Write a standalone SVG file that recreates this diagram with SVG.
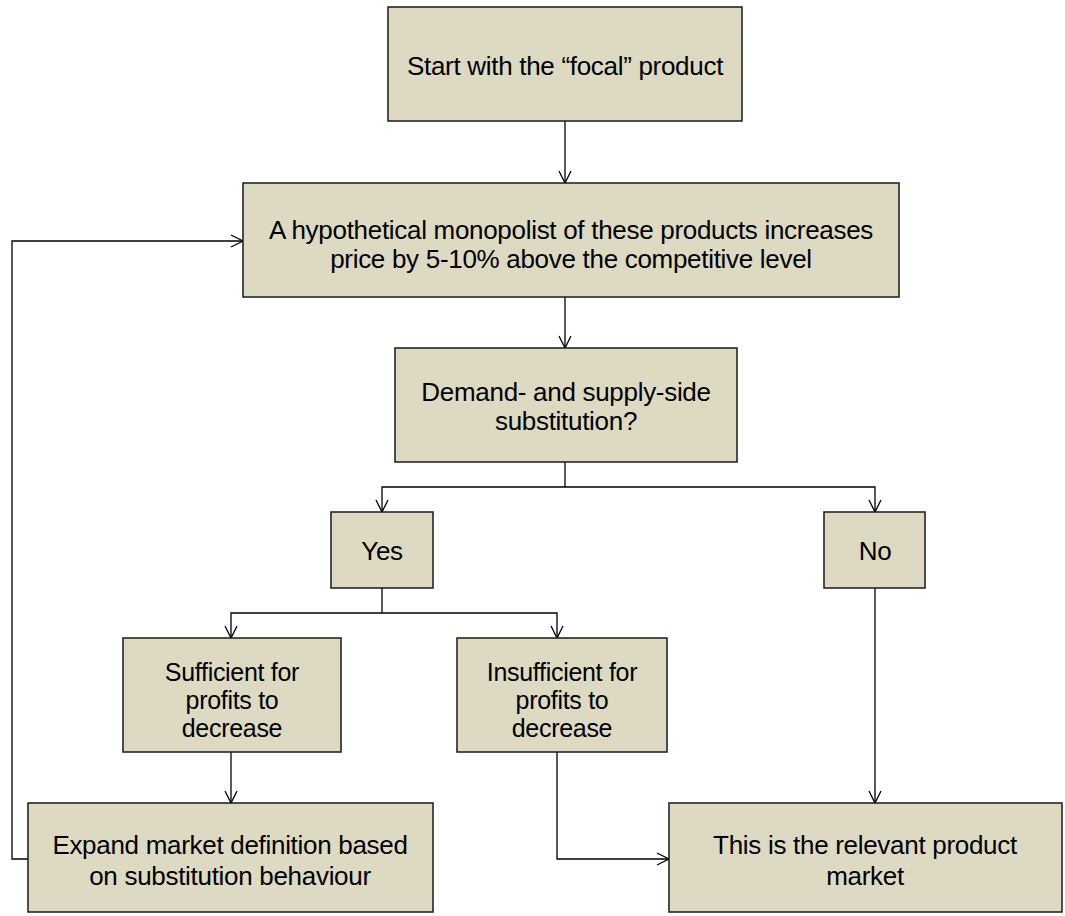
<svg xmlns="http://www.w3.org/2000/svg" width="1065" height="916" viewBox="0 0 1065 916">
<defs>
<style>
.box{fill:#DDD9C3;stroke:#1a1a1a;stroke-width:1.5}
.t{font-family:"Liberation Sans",Arial,sans-serif;font-size:26px;letter-spacing:-0.3px;fill:#000;text-anchor:middle}
.s{font-size:25px}
.c{fill:none;stroke:#000;stroke-width:1.3}
</style>
<marker id="ah" markerWidth="16" markerHeight="16" refX="13" refY="7" orient="auto" markerUnits="userSpaceOnUse">
<path d="M1,1 L13,7 L1,13" fill="none" stroke="#000" stroke-width="1.3"/>
</marker>
</defs>
<rect width="1065" height="916" fill="#fff"/>
<g id="connectors">
<path class="c" d="M565,121 V183" marker-end="url(#ah)"/>
<path class="c" d="M565,297 V348" marker-end="url(#ah)"/>
<path class="c" d="M565,462 V487"/>
<path class="c" d="M565,487 H382 V512" marker-end="url(#ah)"/>
<path class="c" d="M565,487 H875 V512" marker-end="url(#ah)"/>
<path class="c" d="M382,588 V613"/>
<path class="c" d="M382,613 H231 V638" marker-end="url(#ah)"/>
<path class="c" d="M382,613 H557 V638" marker-end="url(#ah)"/>
<path class="c" d="M231,752 V803" marker-end="url(#ah)"/>
<path class="c" d="M557,752 V859 H669" marker-end="url(#ah)"/>
<path class="c" d="M875,588 V803" marker-end="url(#ah)"/>
<path class="c" d="M28,859 H12 V241 H243" marker-end="url(#ah)"/>
</g>
<g id="start">
<rect class="box" x="388" y="7" width="354" height="114"/>
<text class="t" x="565" y="75">Start with the “focal” product</text>
</g>
<g id="monopolist">
<rect class="box" x="243" y="183" width="656" height="114"/>
<text class="t" x="571" y="239">A hypothetical monopolist of these products increases</text>
<text class="t" x="571" y="268">price by 5-10% above the competitive level</text>
</g>
<g id="substitution">
<rect class="box" x="395" y="348" width="342" height="114"/>
<text class="t" x="566" y="401">Demand- and supply-side</text>
<text class="t" x="566" y="430">substitution?</text>
</g>
<g id="yes">
<rect class="box" x="331" y="512" width="102" height="76"/>
<text class="t" x="382" y="560">Yes</text>
</g>
<g id="no">
<rect class="box" x="824" y="512" width="101" height="76"/>
<text class="t" x="875" y="560">No</text>
</g>
<g id="sufficient">
<rect class="box" x="123" y="638" width="218" height="114"/>
<text class="t s" x="232" y="681">Sufficient for</text>
<text class="t s" x="232" y="709">profits to</text>
<text class="t s" x="232" y="737">decrease</text>
</g>
<g id="insufficient">
<rect class="box" x="457" y="638" width="210" height="114"/>
<text class="t s" x="562" y="681">Insufficient for</text>
<text class="t s" x="562" y="709">profits to</text>
<text class="t s" x="562" y="737">decrease</text>
</g>
<g id="expand">
<rect class="box" x="28" y="803" width="405" height="109"/>
<text class="t" x="230" y="854">Expand market definition based</text>
<text class="t" x="230" y="885">on substitution behaviour</text>
</g>
<g id="relevant">
<rect class="box" x="669" y="803" width="393" height="109"/>
<text class="t" x="865" y="854">This is the relevant product</text>
<text class="t" x="865" y="885">market</text>
</g>
</svg>
